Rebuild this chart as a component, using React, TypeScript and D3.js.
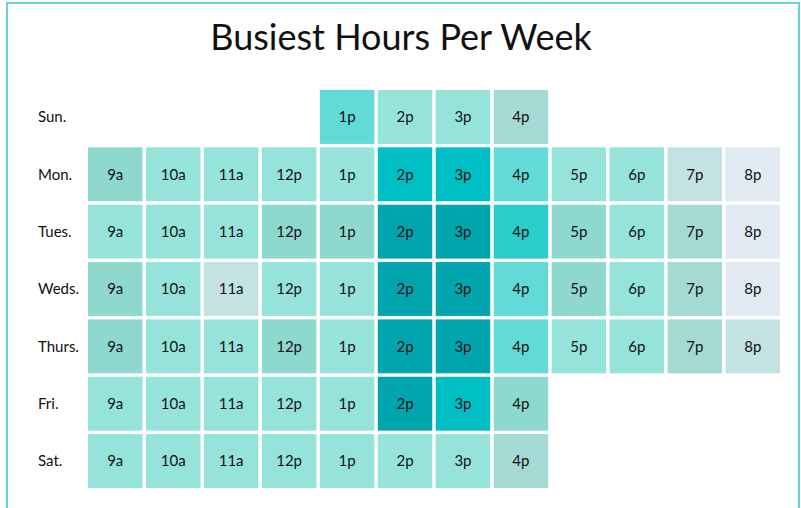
import React, { useEffect, useRef } from 'react';
import * as d3 from 'd3';

const days = ['Sun.', 'Mon.', 'Tues.', 'Weds.', 'Thurs.', 'Fri.', 'Sat.'];
const hours = ['9a', '10a', '11a', '12p', '1p', '2p', '3p', '4p', '5p', '6p', '7p', '8p'];

// busyness level per cell (null = closed)
const sunLevels = [null, null, null, null, 5, 4, 4, 2, null, null, null, null];
const monLevels = [3, 4, 4, 4, 4, 7, 7, 5, 4, 4, 1, 0];
const tueLevels = [4, 4, 4, 3, 3, 8, 8, 6, 3, 4, 2, 0];
const wedLevels = [3, 4, 1, 4, 4, 8, 8, 5, 3, 4, 2, 0];
const thuLevels = [3, 4, 4, 3, 4, 8, 8, 5, 4, 4, 2, 1];
const friLevels = [4, 4, 4, 4, 4, 8, 7, 3, null, null, null, null];
const satLevels = [4, 4, 4, 4, 4, 4, 4, 2, null, null, null, null];

const levelColors = ['#e1e9f3', '#c4e2e1', '#a5d9d3', '#8fd8d0', '#96e3dc', '#62dad7', '#2acccc', '#00bfc4', '#00a5ad'];

const W = 801;
const H = 508;

export default function App() {
  const svgRef = useRef<SVGSVGElement>(null);

  useEffect(() => {
    if (!svgRef.current) return;
    const svg = d3.select(svgRef.current);
    svg.selectAll('*').remove();

    const rows = [sunLevels, monLevels, tueLevels, wedLevels, thuLevels, friLevels, satLevels];

    const x = d3.scaleBand<string>().domain(hours).range([88, 780]).paddingInner(0.06);
    const y = d3.scaleBand<string>().domain(days).range([90, 488]).paddingInner(0.06);
    const color = d3.scaleOrdinal<number, string>().domain(d3.range(levelColors.length)).range(levelColors);

    // frame
    svg.append('rect')
      .attr('x', 7).attr('y', 3)
      .attr('width', 792).attr('height', 530)
      .attr('fill', 'none')
      .attr('stroke', '#6ad3d3')
      .attr('stroke-width', 2);

    svg.append('text')
      .attr('x', 401).attr('y', 50)
      .attr('text-anchor', 'middle')
      .style('font', '36px Lato')
      .attr('fill', '#111')
      .text('Busiest Hours Per Week');

    // day labels
    svg.append('g')
      .selectAll('text')
      .data(days)
      .join('text')
      .attr('x', 38)
      .attr('y', d => (y(d) || 0) + y.bandwidth() / 2)
      .attr('dy', '0.35em')
      .style('font', '15px Lato')
      .attr('fill', '#111')
      .text(d => d);

    const cells = rows.flatMap((levels, i) =>
      levels.map((lv, j) => ({ day: days[i], hour: hours[j], level: lv }))
    ).filter(c => c.level !== null) as { day: string; hour: string; level: number }[];

    const g = svg.append('g')
      .selectAll('g')
      .data(cells)
      .join('g')
      .attr('transform', d => `translate(${x(d.hour)},${y(d.day)})`);

    g.append('rect')
      .attr('width', x.bandwidth())
      .attr('height', y.bandwidth())
      .attr('fill', d => color(d.level));

    g.append('text')
      .attr('x', x.bandwidth() / 2)
      .attr('y', y.bandwidth() / 2)
      .attr('dy', '0.35em')
      .attr('text-anchor', 'middle')
      .style('font', '15px Lato')
      .attr('fill', '#111')
      .text(d => d.hour);
  }, []);

  return (
    <div style={{ position: 'absolute', left: 0, top: 0, width: W, height: H, background: '#fff' }}>
      <svg ref={svgRef} width={W} height={H} style={{ display: 'block' }} />
    </div>
  );
}
